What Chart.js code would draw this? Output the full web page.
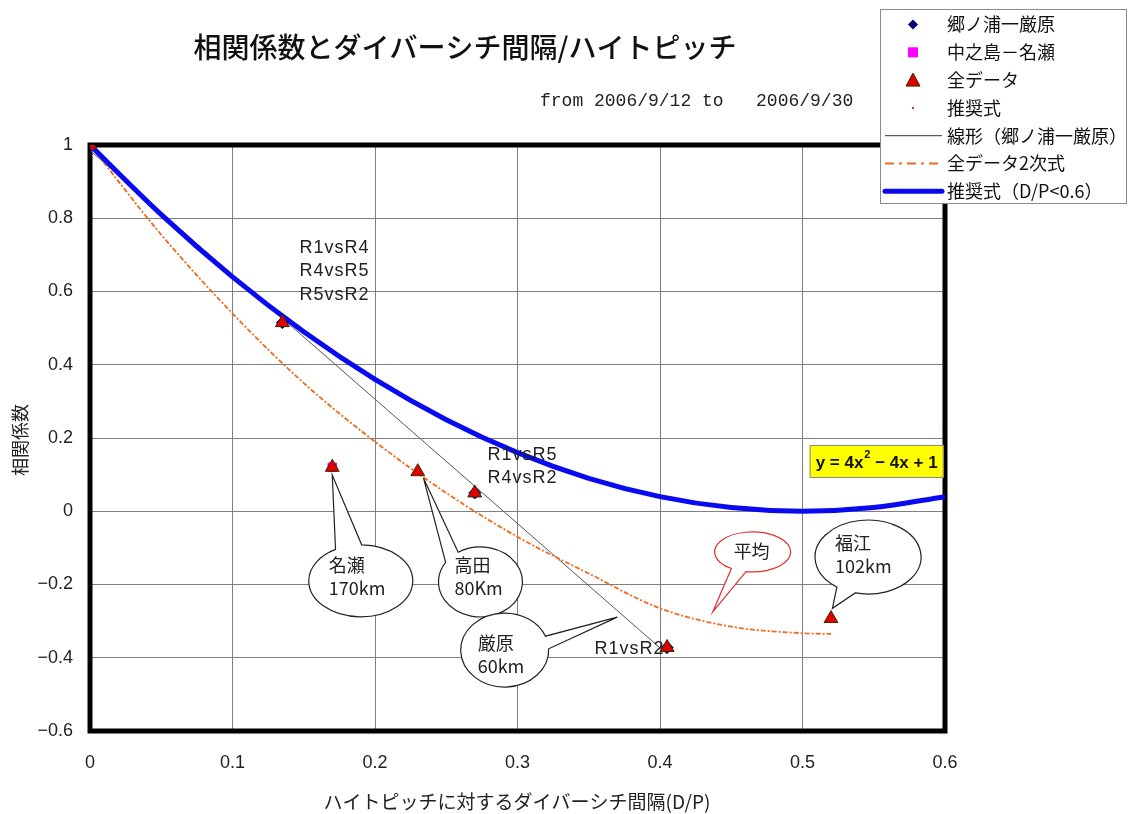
<!DOCTYPE html>
<html>
<head>
<meta charset="utf-8">
<script src="https://cdn.jsdelivr.net/npm/chart.js@4.4.1/dist/chart.umd.min.js"></script>
<style>
  html, body { margin: 0; padding: 0; background: #fff; }
</style>
</head>
<body>
<canvas id="chart" width="1128" height="814"></canvas>
<script>
// ticks
const xTickValues = [0, 0.1, 0.2, 0.3, 0.4, 0.5, 0.6];
const xTickLabels = ['0', '0.1', '0.2', '0.3', '0.4', '0.5', '0.6'];
const yTickValues = [-0.6, -0.4, -0.2, 0, 0.2, 0.4, 0.6, 0.8, 1];
const yTickLabels = ['−0.6', '−0.4', '−0.2', '0', '0.2', '0.4', '0.6', '0.8', '1'];

// series names (legend order)
const seriesNames = ['郷ノ浦一厳原', '中之島－名瀬', '全データ', '推奨式', '線形（郷ノ浦一厳原）', '全データ2次式', '推奨式（D/P<0.6）'];

// measured points
const allDataX = [0, 0.135, 0.17, 0.23, 0.27, 0.405, 0.52];
const allDataY = [1.0, 0.515, 0.12, 0.108, 0.05, -0.372, -0.293];
const gounouraX = [0, 0.135, 0.27, 0.405];
const gounouraY = [1.0, 0.515, 0.05, -0.372];
const nakanoshimaX = [0, 0.17];
const nakanoshimaY = [1.0, 0.12];

// trend lines
const linearX = [0, 0.405];
const linearY = [0.985, -0.39];
const quadX = [0, 0.05, 0.1, 0.15, 0.2, 0.25, 0.3, 0.35, 0.4, 0.45, 0.5, 0.52];
const quadY = [1.0, 0.755, 0.54, 0.35, 0.19, 0.05, -0.07, -0.17, -0.265, -0.315, -0.333, -0.335];
const recX = [0, 0.05, 0.1, 0.15, 0.2, 0.25, 0.3, 0.35, 0.4, 0.45, 0.5, 0.55, 0.6];
const recY = [1.0, 0.81, 0.64, 0.49, 0.36, 0.25, 0.16, 0.09, 0.04, 0.01, 0.0, 0.01, 0.04];

// annotation texts
const pairLabels = [
  { lines: ['R1vsR4', 'R4vsR5', 'R5vsR2'], at: [0.147, 0.719] },
  { lines: ['R1vsR5', 'R4vsR2'], at: [0.279, 0.154] },
  { lines: ['R1vsR2'], at: [0.354, -0.376] }
];
const callouts = [
  { text: ['名瀬', '170km'], at: [0.19, -0.19], tip: [0.17, 0.099], rx: 52, ry: 36, base: -104, spread: 15, dx: -32, dy: [-16, 7], color: '#222' },
  { text: ['高田', '80Km'], at: [0.274, -0.193], tip: [0.234, 0.091], rx: 42, ry: 35, base: -134, spread: 12, dx: -26, dy: [-17, 6], color: '#222' },
  { text: ['厳原', '60km'], at: [0.291, -0.379], tip: [0.37, -0.289], rx: 44, ry: 37, base: -12, spread: 10, dx: -27, dy: [-7, 16], color: '#222' },
  { text: ['平均'], at: [0.465, -0.111], tip: [0.437, -0.275], rx: 38, ry: 20, base: 112, spread: 12, dx: -19, dy: [-1], color: '#e03030' },
  { text: ['福江', '102km'], at: [0.546, -0.125], tip: [0.521, -0.265], rx: 53, ry: 37, base: 115, spread: 11, dx: -33, dy: [-14, 9], color: '#222' }
];
const equationBox = { at: [0.505, 0.181], parts: ['y = 4x', '2', ' − 4x + 1'] };

const CJK = "'Noto Sans CJK JP', sans-serif";
const LAT = "'Liberation Sans', Arial, sans-serif";

function toPts(xs, ys) {
  return xs.map(function (x, i) { return { x: x, y: ys[i] }; });
}
function px(chart, x, y) {
  return [chart.scales.x.getPixelForValue(x), chart.scales.y.getPixelForValue(y)];
}

function drawCallout(ctx, chart, c) {
  var p = px(chart, c.at[0], c.at[1]);
  var t = px(chart, c.tip[0], c.tip[1]);
  var a = c.base * Math.PI / 180, d = c.spread * Math.PI / 180;
  ctx.beginPath();
  ctx.ellipse(p[0], p[1], c.rx, c.ry, 0, a + d, a - d + Math.PI * 2, false);
  ctx.lineTo(t[0], t[1]);
  ctx.closePath();
  ctx.fillStyle = '#fff';
  ctx.fill();
  ctx.lineWidth = 1.2;
  ctx.strokeStyle = c.color;
  ctx.stroke();
  ctx.fillStyle = '#222';
  ctx.font = '18px ' + CJK;
  ctx.textAlign = 'left';
  ctx.textBaseline = 'middle';
  c.text.forEach(function (s, i) {
    ctx.fillText(s, p[0] + c.dx, p[1] + c.dy[i]);
  });
}

const decor = {
  id: 'decor',
  beforeDatasetsDraw: function (chart) {
    var ctx = chart.ctx, a = chart.chartArea;
    ctx.save();
    ctx.lineWidth = 5;
    ctx.strokeStyle = '#000';
    ctx.strokeRect(a.left, a.top, a.right - a.left, a.bottom - a.top);
    ctx.restore();
  },
  afterDraw: function (chart) {
    var ctx = chart.ctx;
    ctx.save();

    // title and subtitle
    ctx.fillStyle = '#111';
    ctx.textAlign = 'center';
    ctx.textBaseline = 'middle';
    ctx.font = '500 28px ' + CJK;
    ctx.fillText('相関係数とダイバーシチ間隔/ハイトピッチ', 465, 47);
    ctx.textAlign = 'left';
    ctx.font = "18px 'Liberation Mono', monospace";
    ctx.fillStyle = '#222';
    ctx.fillText('from 2006/9/12 to   2006/9/30', 540, 101);

    // axis titles
    ctx.font = '19px ' + CJK;
    ctx.textAlign = 'center';
    ctx.fillText('ハイトピッチに対するダイバーシチ間隔(D/P)', 517, 802);
    ctx.save();
    ctx.translate(20, 440);
    ctx.rotate(-Math.PI / 2);
    ctx.font = '18px ' + CJK;
    ctx.fillText('相関係数', 0, 0);
    ctx.restore();

    // pair labels
    ctx.font = '18px ' + LAT;
    ctx.letterSpacing = '1px';
    ctx.textAlign = 'left';
    ctx.fillStyle = '#222';
    pairLabels.forEach(function (l) {
      var p = px(chart, l.at[0], l.at[1]);
      l.lines.forEach(function (s, i) { ctx.fillText(s, p[0], p[1] + i * 23.5); });
    });
    ctx.letterSpacing = '0px';

    // callouts
    callouts.forEach(function (c) { drawCallout(ctx, chart, c); });

    // equation box
    var e = px(chart, equationBox.at[0], equationBox.at[1]);
    ctx.fillStyle = '#ffff00';
    ctx.fillRect(e[0], e[1], 134, 33);
    ctx.strokeStyle = '#888';
    ctx.lineWidth = 1;
    ctx.strokeRect(e[0] + 0.5, e[1] + 0.5, 133, 32);
    ctx.fillStyle = '#111';
    ctx.textBaseline = 'middle';
    var x = e[0] + 6, y = e[1] + 18;
    ctx.font = 'bold 17px ' + LAT;
    ctx.fillText(equationBox.parts[0], x, y);
    x += ctx.measureText(equationBox.parts[0]).width;
    ctx.font = 'bold 11px ' + LAT;
    ctx.fillText(equationBox.parts[1], x + 1, y - 8);
    x += ctx.measureText(equationBox.parts[1]).width + 1;
    ctx.font = 'bold 17px ' + LAT;
    ctx.fillText(equationBox.parts[2], x, y);

    // legend
    var lx = 880, ly = 9;
    ctx.fillStyle = '#fff';
    ctx.fillRect(lx, ly, 247, 195);
    ctx.strokeStyle = '#8a8a8a';
    ctx.lineWidth = 1;
    ctx.strokeRect(lx + 0.5, ly + 0.5, 246, 194);
    seriesNames.forEach(function (name, i) {
      var cy = 24.5 + i * 27.8, mx = 913;
      ctx.save();
      if (i === 0) {
        ctx.fillStyle = '#00007a';
        ctx.beginPath();
        ctx.moveTo(mx, cy - 5); ctx.lineTo(mx + 5, cy); ctx.lineTo(mx, cy + 5); ctx.lineTo(mx - 5, cy);
        ctx.closePath(); ctx.fill();
      } else if (i === 1) {
        ctx.fillStyle = '#ff00ff';
        ctx.fillRect(mx - 5, cy - 5, 10, 10);
      } else if (i === 2) {
        ctx.fillStyle = '#e00000';
        ctx.strokeStyle = '#3a2a00';
        ctx.beginPath();
        ctx.moveTo(mx, cy - 7); ctx.lineTo(mx + 7, cy + 6); ctx.lineTo(mx - 7, cy + 6);
        ctx.closePath(); ctx.fill(); ctx.stroke();
      } else if (i === 3) {
        ctx.fillStyle = '#c03030';
        ctx.fillRect(mx - 1, cy - 1, 2, 2);
      } else {
        ctx.beginPath();
        ctx.moveTo(885, cy); ctx.lineTo(942, cy);
        if (i === 4) { ctx.strokeStyle = '#333'; ctx.lineWidth = 1; }
        if (i === 5) { ctx.strokeStyle = '#f26a1b'; ctx.lineWidth = 2; ctx.setLineDash([9, 5, 3, 5]); }
        if (i === 6) { ctx.strokeStyle = '#0a0af0'; ctx.lineWidth = 5; ctx.lineCap = 'round'; }
        ctx.stroke();
      }
      ctx.restore();
      ctx.fillStyle = '#111';
      ctx.font = '18px ' + CJK;
      ctx.textAlign = 'left';
      ctx.textBaseline = 'middle';
      ctx.fillText(name, 947, cy);
    });

    ctx.restore();
  }
};

new Chart(document.getElementById('chart'), {
  type: 'scatter',
  data: {
    datasets: [
      {
        label: seriesNames[2], data: toPts(allDataX, allDataY),
        pointStyle: 'triangle', pointRadius: 8, backgroundColor: '#e00000',
        borderColor: '#3a2a00', borderWidth: 1, order: 0
      },
      {
        label: seriesNames[1], data: toPts(nakanoshimaX, nakanoshimaY),
        pointStyle: 'rect', pointRadius: 6, backgroundColor: '#ff00ff',
        borderColor: '#ff00ff', order: 1
      },
      {
        label: seriesNames[0], data: toPts(gounouraX, gounouraY),
        pointStyle: 'rectRot', pointRadius: 6, backgroundColor: '#00007a',
        borderColor: '#00007a', order: 2
      },
      {
        label: seriesNames[6], data: toPts(recX, recY), showLine: true,
        pointRadius: 0, borderColor: '#0a0af0', borderWidth: 5,
        cubicInterpolationMode: 'monotone', order: 3
      },
      {
        label: seriesNames[5], data: toPts(quadX, quadY), showLine: true,
        pointRadius: 0, borderColor: '#f26a1b', borderWidth: 1.8,
        borderDash: [5, 2, 2, 2], cubicInterpolationMode: 'monotone', order: 4
      },
      {
        label: seriesNames[4], data: toPts(linearX, linearY), showLine: true,
        pointRadius: 0, borderColor: '#555', borderWidth: 1, order: 5
      }
    ]
  },
  options: {
    responsive: false,
    animation: false,
    layout: { padding: { left: 0, right: 183, top: 145, bottom: 0 } },
    plugins: { legend: { display: false }, tooltip: { enabled: false } },
    scales: {
      x: {
        type: 'linear', min: 0, max: 0.6,
        afterBuildTicks: function (s) { s.ticks = xTickValues.map(function (v) { return { value: v }; }); },
        afterFit: function (s) { s.height = 83; },
        grid: { color: '#7f7f7f', lineWidth: 1, drawTicks: false },
        border: { display: false },
        ticks: {
          padding: 21, color: '#222', font: { family: LAT, size: 18 },
          callback: function (v, i) { return xTickLabels[i]; }
        }
      },
      y: {
        type: 'linear', min: -0.6, max: 1,
        afterBuildTicks: function (s) { s.ticks = yTickValues.map(function (v) { return { value: v }; }); },
        afterFit: function (s) { s.width = 90; },
        grid: { color: '#7f7f7f', lineWidth: 1, drawTicks: false },
        border: { display: false },
        ticks: {
          padding: 17, color: '#222', font: { family: LAT, size: 18 },
          callback: function (v, i) { return yTickLabels[i]; }
        }
      }
    }
  },
  plugins: [decor]
});
</script>
</body>
</html>
